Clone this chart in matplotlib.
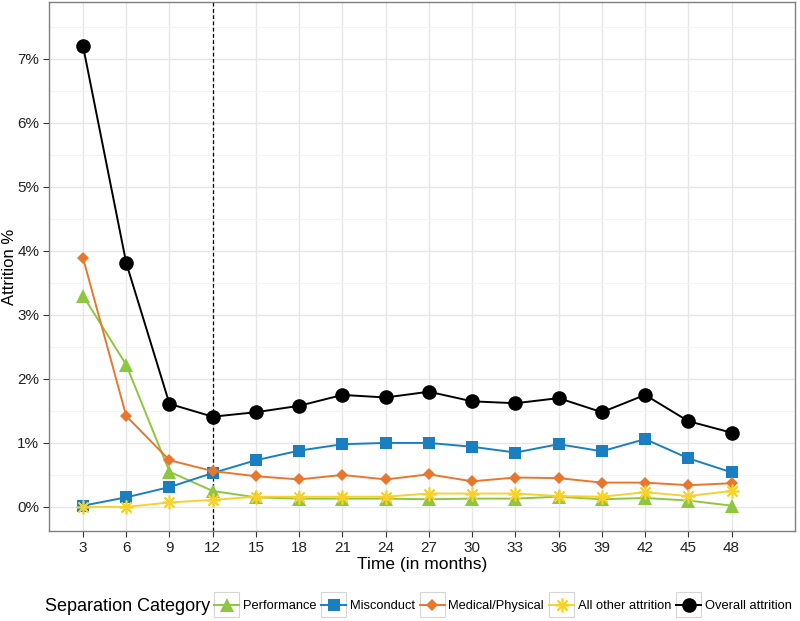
import numpy as np
import matplotlib
matplotlib.use("Agg")
import matplotlib.pyplot as plt
from matplotlib.ticker import FuncFormatter, MultipleLocator
from matplotlib.legend_handler import HandlerLine2D
from matplotlib.patches import Rectangle

plt.rcParams["font.family"] = ["Liberation Sans", "DejaVu Sans"]

# Data (attrition %)
months = [3, 6, 9, 12, 15, 18, 21, 24, 27, 30, 33, 36, 39, 42, 45, 48]
performance = [3.30, 2.22, 0.55, 0.25, 0.15, 0.13, 0.13, 0.13, 0.12, 0.13, 0.13, 0.16, 0.12, 0.14, 0.10, 0.02]
misconduct = [0.02, 0.15, 0.31, 0.53, 0.73, 0.88, 0.98, 1.00, 1.00, 0.94, 0.85, 0.98, 0.87, 1.06, 0.76, 0.54]
medical = [3.89, 1.42, 0.73, 0.56, 0.48, 0.43, 0.50, 0.43, 0.51, 0.40, 0.46, 0.45, 0.38, 0.38, 0.34, 0.37]
other = [0.00, 0.00, 0.07, 0.11, 0.16, 0.16, 0.16, 0.16, 0.21, 0.21, 0.21, 0.17, 0.16, 0.23, 0.17, 0.25]
overall = [7.20, 3.81, 1.61, 1.41, 1.48, 1.58, 1.75, 1.71, 1.80, 1.65, 1.62, 1.70, 1.48, 1.75, 1.34, 1.16]

labels = ["Performance", "Misconduct", "Medical/Physical", "All other attrition", "Overall attrition"]
series = [performance, misconduct, medical, other, overall]
colors = ["#8dc63f", "#1a7fc1", "#e8772e", "#f7d22e", "#000000"]
markers = ["^", "s", "D", (8, 2, 0), "o"]
msizes = [10, 9, 6, 10, 10.5]


class BoxHandler(HandlerLine2D):
	# legend key with a light grey square behind it, like ggplot
	def create_artists(self, legend, orig_handle, xdescent, ydescent, width, height, fontsize, trans):
		arts = super().create_artists(legend, orig_handle, xdescent, ydescent, width, height, fontsize, trans)
		cy = height / 2 - ydescent
		rect = Rectangle((-xdescent, cy - width / 2), width, width, facecolor="white",
			edgecolor="#d5d5d5", linewidth=0.8, transform=trans)
		return [rect] + arts


fig = plt.figure(figsize=(8, 6.21), dpi=100)
ax = fig.add_axes([0.06125, 0.145, 0.9325, 0.852])

handles = []
for vals, lab, col, mk, ms in zip(series, labels, colors, markers, msizes):
	mew = 1.2 if mk == (8, 2, 0) else 0
	line, = ax.plot(months, vals, color=col, marker=mk, markersize=ms, linewidth=1.4,
		markeredgewidth=mew, markeredgecolor=col, label=lab, zorder=3)
	handles.append(line)

ax.axvline(12, color="black", linestyle=(0, (3, 2)), linewidth=0.9, zorder=2)

ax.set_xlim(0.64, 52.4)
ax.set_ylim(-0.375, 7.89)
ax.set_xticks(months)
ax.yaxis.set_major_locator(MultipleLocator(1))
ax.yaxis.set_minor_locator(MultipleLocator(0.5))
ax.yaxis.set_major_formatter(FuncFormatter(lambda v, p: f"{v:.0f}%"))
ax.grid(which="major", color="#e6e6e6", linewidth=1.0, zorder=0)
ax.grid(which="minor", axis="y", color="#f3f3f3", linewidth=0.6, zorder=0)
ax.set_axisbelow(True)
ax.tick_params(axis="both", which="major", labelsize=11, colors="#333333", length=4, width=0.8,
	labelcolor="#222222", pad=3)
ax.tick_params(axis="y", which="minor", length=0)
for s in ax.spines.values():
	s.set_color("#808080")
	s.set_linewidth(1.0)

ax.set_xlabel("Time (in months)", fontsize=12.5, labelpad=2)
ax.set_ylabel("Attrition %", fontsize=12)
ax.yaxis.set_label_coords(-0.043, 0.5)

# legend at bottom with title on the left
fig.text(0.056, 0.024, "Separation Category", fontsize=13, ha="left", va="center")
leg = fig.legend(handles=handles, labels=labels, loc="center left", bbox_to_anchor=(0.268, 0.024),
	ncol=5, frameon=False, fontsize=9.3, handlelength=1.9, handletextpad=0.3, columnspacing=0.4,
	borderaxespad=0, borderpad=0, handler_map={h: BoxHandler() for h in handles})

fig.savefig("out.png", dpi=100)
